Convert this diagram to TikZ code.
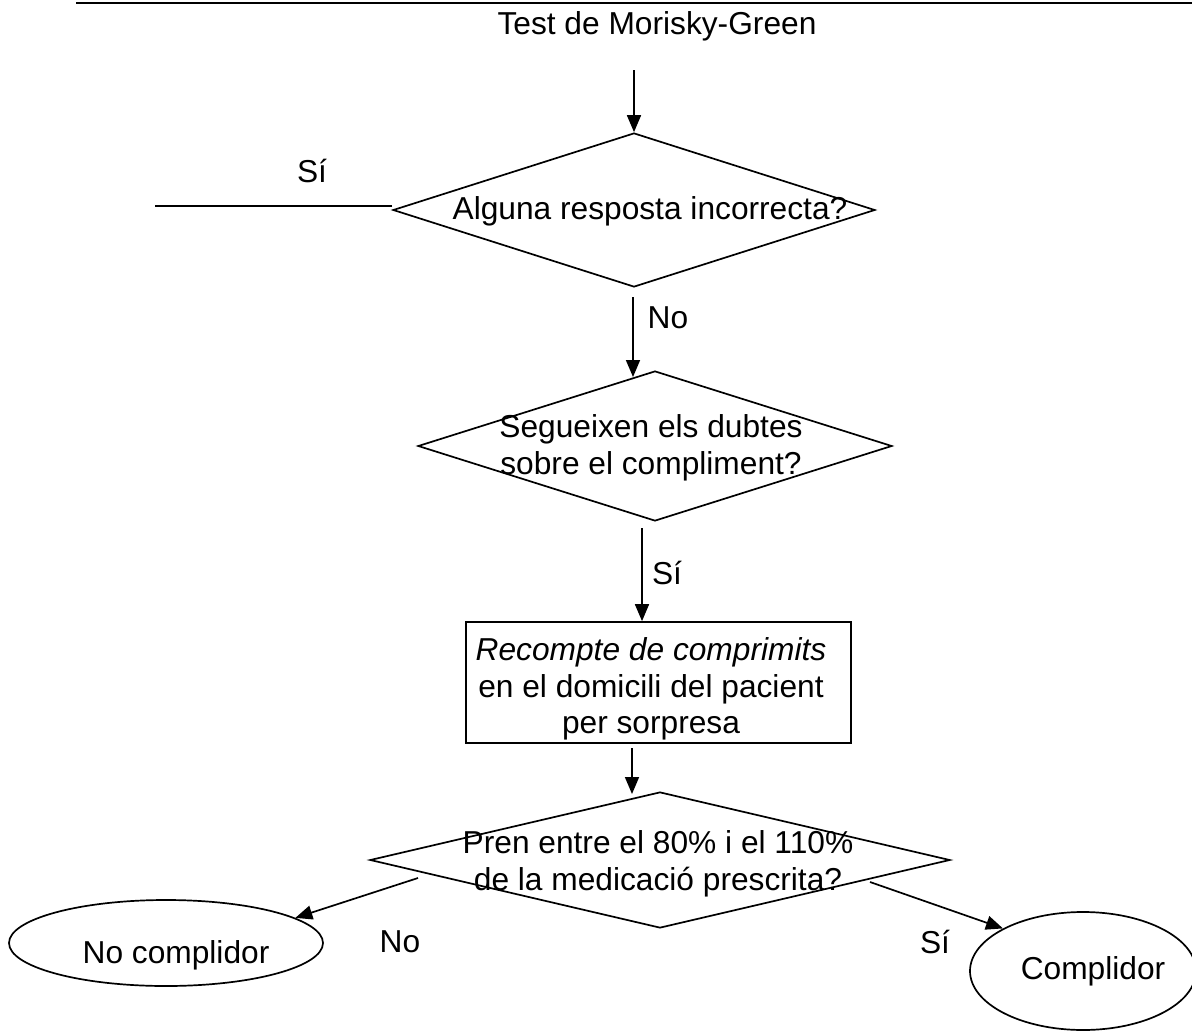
\documentclass[tikz,border=0pt]{standalone}
\usepackage{fontspec}
\setmainfont{Liberation Sans}
\usetikzlibrary{shapes.geometric,arrows.meta,calc}
\begin{document}
\begin{tikzpicture}[x=1pt,y=-1pt,
  every node/.style={font=\fontsize{31.7}{36.5}\selectfont, inner sep=0pt},
  line/.style={line width=1.7pt},
  arr/.style={line width=1.7pt,-{Triangle[length=17pt,width=14pt]}},
  dia/.style={diamond, draw, line width=1.7pt, inner sep=0pt},
  box/.style={rectangle, draw, line width=1.7pt},
  oval/.style={ellipse, draw, line width=1.7pt},
  txt/.style={align=center},
]
\useasboundingbox (0,0) rectangle (1192,1034);
% top rule
\coordinate (r1) at (76,3);
\coordinate (r2) at (1196,3);
\draw[line width=2.6pt] (r1) -- (r2);
\node (title) at (657,26) {Test de Morisky-Green};

% decision 1
\coordinate (s0) at (634,70);
\node[dia, minimum width=482pt, minimum height=154pt] (d1) at (634,210) {};
\node[txt] (t1) at (650,211) {Alguna resposta incorrecta?};
\draw[arr] (s0) -- (d1.north);
\coordinate (yesEnd) at (155,206);
\draw[line] (d1.west |- yesEnd) -- (yesEnd);
\node (lyes1) at (312,171) {Sí};

% decision 2
\node[dia, minimum width=474pt, minimum height=150pt] (d2) at (655,446) {};
\node[txt] (t2) at (651,448) {Segueixen els dubtes\\sobre el compliment?};
\coordinate (s1) at (633,297);
\coordinate (e1) at (633,377);
\draw[arr] (s1) -- (e1);
\node (lno1) at (668,318) {No};

% box
\node[box, minimum width=385pt, minimum height=121pt] (rect) at (658.5,682.5) {};
\node[txt] (t3) at (651,689) {\textit{Recompte de comprimits}\\en el domicili del pacient\\per sorpresa};
\coordinate (s2) at (642,528);
\draw[arr] (s2) -- (s2 |- rect.north);
\node (lyes2) at (667,573) {Sí};

% decision 3
\node[dia, minimum width=580pt, minimum height=136pt] (d3) at (660,860) {};
\node[txt] (t4) at (658,864) {Pren entre el 80\% i el 110\%\\de la medicació prescrita?};
\coordinate (s3) at (632,748);
\coordinate (e3) at (632,794);
\draw[arr] (s3) -- (e3);

% outcomes
\node[oval, minimum width=314pt, minimum height=86pt] (ellL) at (166,943) {};
\node (tL) at (176,955) {No complidor};
\node[oval, minimum width=226pt, minimum height=118pt] (ellR) at (1083,971) {};
\node (tR) at (1093,971) {Complidor};
\coordinate (s4) at (418,878);
\coordinate (s5) at (870,882);
\draw[arr] (s4) -- (ellL.11);
\draw[arr] (s5) -- (ellR.152);
\node (lno2) at (400,942) {No};
\node (lyes3) at (935,942) {Sí};
\end{tikzpicture}
\end{document}
